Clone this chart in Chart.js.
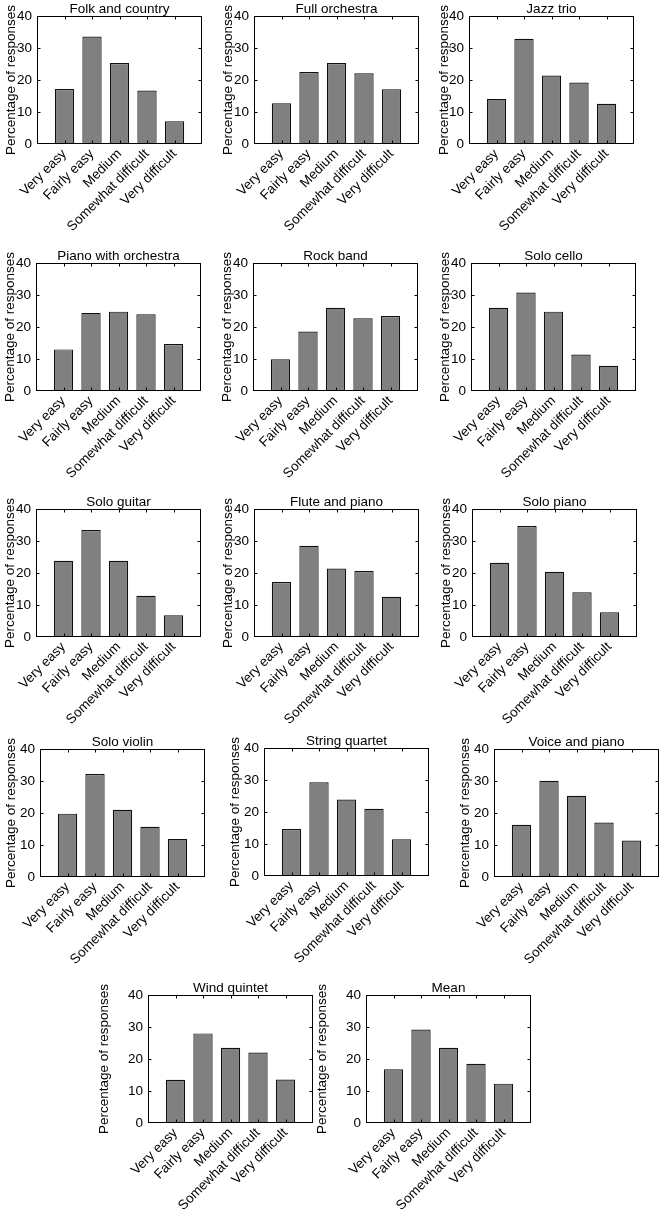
<!DOCTYPE html>
<html><head><meta charset="utf-8">
<script src="https://cdn.jsdelivr.net/npm/chart.js@4.4.1/dist/chart.umd.min.js"></script>
<style>
html,body{margin:0;padding:0;background:#fff;width:660px;height:1209px;overflow:hidden;position:relative}
canvas{position:absolute}
</style></head><body>
<script>
// ---- data ----
const categories = ['Very easy', 'Fairly easy', 'Medium', 'Somewhat difficult', 'Very difficult'];
const yTickValues = [0, 10, 20, 30, 40];
const yAxisTitle = 'Percentage of responses';

const folkAndCountry     = [17.2, 33.6, 25.3, 16.7, 7.1];
const fullOrchestra      = [12.7, 22.5, 25.3, 22.1, 17.1];
const jazzTrio           = [14.1, 32.9, 21.4, 19.2, 12.6];
const pianoWithOrchestra = [13.0, 24.4, 24.8, 24.0, 14.7];
const rockBand           = [9.9, 18.6, 26.0, 22.7, 23.4];
const soloCello          = [26.0, 30.8, 24.8, 11.4, 7.9];
const soloGuitar         = [23.8, 33.4, 23.8, 12.9, 6.8];
const fluteAndPiano      = [17.2, 28.5, 21.4, 20.6, 12.6];
const soloPiano          = [23.2, 34.7, 20.4, 14.0, 7.7];
const soloViolin         = [19.8, 32.2, 21.0, 15.7, 11.9];
const stringQuartet      = [14.7, 29.3, 23.9, 21.0, 11.5];
const voiceAndPiano      = [16.3, 30.1, 25.4, 17.0, 11.4];
const windQuintet        = [13.5, 28.0, 23.5, 22.0, 13.6];
const meanValues         = [16.8, 29.2, 23.5, 18.5, 12.3];

const panelTitles = ['Folk and country', 'Full orchestra', 'Jazz trio', 'Piano with orchestra', 'Rock band',
  'Solo cello', 'Solo guitar', 'Flute and piano', 'Solo piano', 'Solo violin', 'String quartet',
  'Voice and piano', 'Wind quintet', 'Mean'];
const panelValues = [folkAndCountry, fullOrchestra, jazzTrio, pianoWithOrchestra, rockBand, soloCello,
  soloGuitar, fluteAndPiano, soloPiano, soloViolin, stringQuartet, voiceAndPiano, windQuintet, meanValues];

// ---- layout: plot-area top-left corner and gap from y-axis title to plot ----
const plotOrigins = [[37,16],[254,16],[469,15.5],[36,262.5],[253,262.5],[471,262.5],
  [36,508.5],[253.5,508.5],[471.5,508.5],[40,748.5],[264,748],[494,749],[148,995],[366,995]];
const yTitleGaps = [26,26,25,26,26,26,26,26,26,29,29,29,44,44];
const PW = 165, PH = 128, PT = 18, PR = 14, XH = 100;
const FS = 13.5;
const FONT = "'Liberation Sans', Arial, Helvetica, sans-serif";

const framePlugin = {
  id: 'frame',
  afterDraw(chart) {
    const {ctx, chartArea: a, scales: {x, y}} = chart;
    ctx.save();
    ctx.strokeStyle = '#000';
    ctx.lineWidth = 1;
    const L = Math.round(a.left) + 0.5, R = Math.round(a.right) - 0.5;
    const T = Math.round(a.top) + 0.5, B = Math.round(a.bottom) - 0.5;
    ctx.strokeRect(L, T, R - L, B - T);
    ctx.beginPath();
    for (let i = 1; i <= categories.length; i++) {
      const px = Math.round(x.getPixelForValue(i)) + 0.5;
      ctx.moveTo(px, B); ctx.lineTo(px, B - 3);
      ctx.moveTo(px, T); ctx.lineTo(px, T + 3);
    }
    yTickValues.slice(1, -1).forEach(v => {
      const py = Math.round(y.getPixelForValue(v)) + 0.5;
      ctx.moveTo(L, py); ctx.lineTo(L + 3, py);
      ctx.moveTo(R, py); ctx.lineTo(R - 3, py);
    });
    ctx.stroke();
    ctx.fillStyle = '#000';
    ctx.font = FS + 'px ' + FONT;
    ctx.textAlign = 'center';
    ctx.textBaseline = 'alphabetic';
    ctx.fillText(chart.options.plugins.frame.title, (a.left + a.right) / 2, a.top - 3);
    ctx.restore();
  }
};

panelTitles.forEach((title, idx) => {
  const [ox, oy] = plotOrigins[idx];
  const PL = yTitleGaps[idx] + 10;
  const cv = document.createElement('canvas');
  const CW = PL + PW + PR, CH = PT + PH + XH;
  cv.width = CW; cv.height = CH;
  cv.style.left = (ox - PL) + 'px';
  cv.style.top = (oy - PT) + 'px';
  cv.style.width = CW + 'px'; cv.style.height = CH + 'px';
  document.body.appendChild(cv);
  new Chart(cv, {
    type: 'bar',
    data: {
      datasets: [{
        data: panelValues[idx].map((v, i) => ({x: i + 1, y: v})),
        backgroundColor: '#808080',
        borderColor: '#111',
        borderWidth: 1.2,
        barPercentage: 0.9,
        categoryPercentage: 0.78
      }]
    },
    options: {
      responsive: false,
      animation: false,
      devicePixelRatio: 1,
      layout: {padding: {left: 0, right: PR, top: PT, bottom: 0}},
      plugins: {legend: {display: false}, tooltip: {enabled: false}, title: {display: false}, frame: {title}},
      scales: {
        x: {
          type: 'linear', min: 0, max: categories.length + 1, offset: false,
          grid: {display: false, drawTicks: false}, border: {display: false},
          ticks: {stepSize: 1, autoSkip: false, minRotation: 45, maxRotation: 45, padding: 2,
            color: '#000', font: {family: FONT, size: FS},
            callback: v => categories[v - 1] ?? ''},
          afterFit: s => { s.height = XH; }
        },
        y: {
          min: yTickValues[0], max: yTickValues[yTickValues.length - 1],
          grid: {display: false, drawTicks: false}, border: {display: false},
          ticks: {stepSize: 10, padding: 5, color: '#000', font: {family: FONT, size: FS}},
          title: {display: true, text: yAxisTitle, color: '#000', font: {family: FONT, size: FS}, padding: {top: 2, bottom: 0}},
          afterFit: s => { s.width = PL; }
        }
      }
    },
    plugins: [framePlugin]
  });
});
</script>
</body></html>
